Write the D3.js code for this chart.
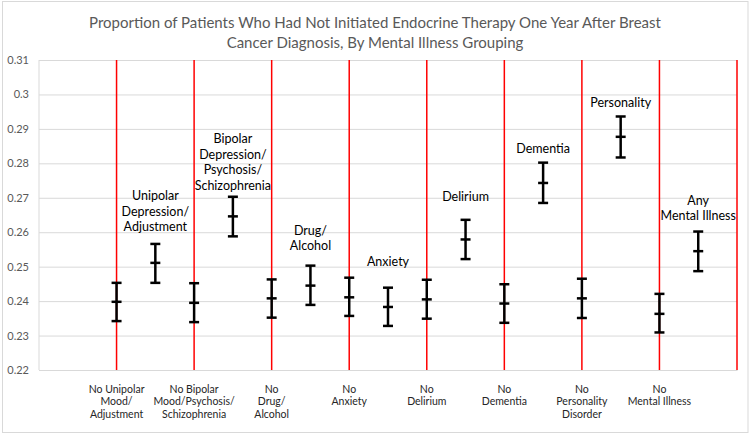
<!DOCTYPE html>
<html>
<head>
<meta charset="utf-8">
<script src="https://cdn.jsdelivr.net/npm/d3@7"></script>
<style>
  html, body { margin: 0; padding: 0; background: #fff; }
  svg { display: block; }
  text { font-family: Lato, "Open Sans", sans-serif; }
</style>
</head>
<body>
<svg id="chart" width="750" height="434"></svg>
<script>
// ---- data ----
const titleLines = [
  "Proportion of Patients Who Had Not Initiated Endocrine Therapy One Year After Breast",
  "Cancer Diagnosis, By Mental Illness Grouping"
];
const comparisonLabels = [
  ["No Unipolar", "Mood/", "Adjustment"],
  ["No Bipolar", "Mood/Psychosis/", "Schizophrenia"],
  ["No", "Drug/", "Alcohol"],
  ["No", "Anxiety"],
  ["No", "Delirium"],
  ["No", "Dementia"],
  ["No", "Personality", "Disorder"],
  ["No", "Mental Illness"]
];
const illnessLabels = [
  ["Unipolar", "Depression/", "Adjustment"],
  ["Bipolar", "Depression/", "Psychosis/", "Schizophrenia"],
  ["Drug/", "Alcohol"],
  ["Anxiety"],
  ["Delirium"],
  ["Dementia"],
  ["Personality"],
  ["Any", "Mental Illness"]
];
// groups without the illness (x = 2, 4, ... 16)
const withoutEstimate = [0.2398, 0.2395, 0.2408, 0.2411, 0.2405, 0.2393, 0.2408, 0.2363];
const withoutLower    = [0.2342, 0.2339, 0.2352, 0.2357, 0.2349, 0.2337, 0.2351, 0.2309];
const withoutUpper    = [0.2453, 0.2452, 0.2463, 0.2468, 0.2462, 0.2449, 0.2465, 0.2421];
// groups with the illness (x = 3, 5, ... 17)
const withEstimate = [0.2511, 0.2646, 0.2445, 0.2383, 0.2579, 0.2743, 0.2877, 0.2545];
const withLower    = [0.2453, 0.2588, 0.2389, 0.2328, 0.2522, 0.2685, 0.2817, 0.2487];
const withUpper    = [0.2566, 0.2703, 0.2503, 0.2439, 0.2636, 0.2802, 0.2936, 0.2602];
// value at which the last line of each illness annotation sits
const illnessLabelAt = [0.2616, 0.2736, 0.2560, 0.2516, 0.2703, 0.2844, 0.2976, 0.2648];
const dividerAt = [2, 4, 6, 8, 10, 12, 14, 16, 18];
const xDomain = [0, 18];
const yTicks = [0.22, 0.23, 0.24, 0.25, 0.26, 0.27, 0.28, 0.29, 0.30, 0.31];
const yTickLabels = ["0.22", "0.23", "0.24", "0.25", "0.26", "0.27", "0.28", "0.29", "0.3", "0.31"];

// ---- layout ----
const svg = d3.select("#chart");
const W = 750, H = 434;
const m = { left: 39, right: 13, top: 60, bottom: 64 };
const pw = W - m.left - m.right, ph = H - m.top - m.bottom;

svg.append("rect").attr("x", 2.5).attr("y", 1.5).attr("width", 745.5).attr("height", 431)
  .attr("fill", "#fff").attr("stroke", "#d9d9d9").attr("stroke-width", 1);

const x = d3.scaleLinear().domain(xDomain).range([m.left, m.left + pw]);
const y = d3.scaleLinear().domain([yTicks[0], yTicks[yTicks.length - 1]]).range([m.top + ph, m.top]);

// title
svg.append("text").attr("x", 375).attr("y", 28).attr("text-anchor", "middle")
  .attr("fill", "#595959").style("font-size", "15px")
  .selectAll("tspan").data(titleLines).join("tspan")
  .attr("x", 375).attr("dy", (d, i) => i === 0 ? 0 : 20).text(d => d);

// y axis with gridlines
const yAxis = d3.axisLeft(y).tickValues(yTicks)
  .tickFormat((d, i) => yTickLabels[i]).tickSizeInner(-pw).tickSizeOuter(0).tickPadding(10);
const gy = svg.append("g").attr("transform", `translate(${m.left},0)`).call(yAxis);
gy.select(".domain").remove();
gy.selectAll(".tick line").attr("stroke", "#d9d9d9").attr("stroke-width", 1);
gy.selectAll(".tick text").attr("fill", "#595959").style("font-size", "11px")
  .style("font-family", "Lato, sans-serif");

// left axis line
svg.append("line").attr("x1", m.left).attr("x2", m.left)
  .attr("y1", m.top).attr("y2", m.top + ph).attr("stroke", "#d9d9d9");

// bottom axis
const xAxis = d3.axisBottom(x).tickValues([]).tickSizeOuter(0);
const gx = svg.append("g").attr("transform", `translate(0,${m.top + ph})`).call(xAxis);
gx.select(".domain").attr("stroke", "#d9d9d9");

// red dividers
svg.append("g").selectAll("line").data(dividerAt).join("line")
  .attr("x1", d => x(d)).attr("x2", d => x(d))
  .attr("y1", y(yTicks[yTicks.length - 1])).attr("y2", y(yTicks[0]))
  .attr("stroke", "#ff0000").attr("stroke-width", 1.5);

// error bars
const points = [];
withoutEstimate.forEach((v, i) => points.push({ xv: 2 + 2 * i, est: v, lo: withoutLower[i], hi: withoutUpper[i] }));
withEstimate.forEach((v, i) => points.push({ xv: 3 + 2 * i, est: v, lo: withLower[i], hi: withUpper[i] }));

const cap = 5;
const eb = svg.append("g").attr("stroke", "#000").attr("stroke-width", 2.5);
const g = eb.selectAll("g").data(points).join("g");
g.append("line").attr("x1", d => x(d.xv)).attr("x2", d => x(d.xv))
  .attr("y1", d => y(d.lo)).attr("y2", d => y(d.hi));
g.append("line").attr("x1", d => x(d.xv) - cap).attr("x2", d => x(d.xv) + cap)
  .attr("y1", d => y(d.lo)).attr("y2", d => y(d.lo));
g.append("line").attr("x1", d => x(d.xv) - cap).attr("x2", d => x(d.xv) + cap)
  .attr("y1", d => y(d.hi)).attr("y2", d => y(d.hi));
g.append("line").attr("x1", d => x(d.xv) - cap).attr("x2", d => x(d.xv) + cap)
  .attr("y1", d => y(d.est)).attr("y2", d => y(d.est));

// illness annotations
const lhA = 15.5;
svg.append("g").selectAll("text").data(illnessLabels).join("text")
  .attr("text-anchor", "middle").attr("fill", "#000").style("font-size", "12.5px")
  .each(function (lines, i) {
    const cx = x(3 + 2 * i);
    const yLast = y(illnessLabelAt[i]);
    d3.select(this).selectAll("tspan").data(lines).join("tspan")
      .attr("x", cx)
      .attr("y", (d, k) => yLast - (lines.length - 1 - k) * lhA)
      .attr("dy", "0.35em").text(d => d);
  });

// bottom category labels
const lhB = 12.7;
svg.append("g").selectAll("text").data(comparisonLabels).join("text")
  .attr("text-anchor", "middle").attr("fill", "#262626").style("font-size", "10.5px")
  .each(function (lines, i) {
    const cx = x(2 + 2 * i);
    d3.select(this).selectAll("tspan").data(lines).join("tspan")
      .attr("x", cx)
      .attr("y", (d, k) => m.top + ph + 19 + k * lhB)
      .attr("dy", "0.35em").text(d => d);
  });
</script>
</body>
</html>
